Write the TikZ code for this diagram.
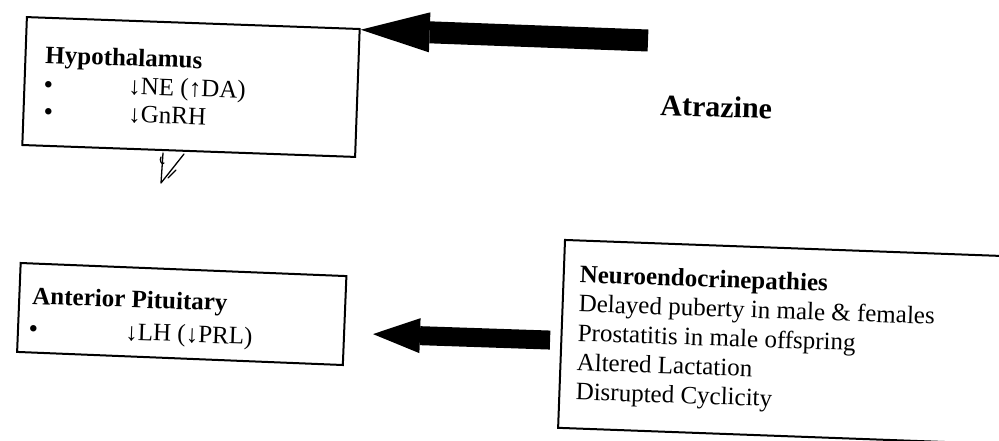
\documentclass[tikz,border=0pt]{standalone}
\usepackage{fontspec}
\setmainfont{Liberation Serif}
\usetikzlibrary{arrows.meta}
\begin{document}
\begin{tikzpicture}[x=1pt,y=-1pt,
  box/.style={draw, line width=2pt, inner sep=0pt},
  ttl/.style={font=\fontsize{25}{30}\selectfont\bfseries, anchor=base west, inner sep=0pt, rotate=-2},
  txt/.style={font=\fontsize{25}{30}\selectfont, anchor=base west, inner sep=0pt, rotate=-2},
  bul/.style={font=\fontsize{27}{30}\selectfont, anchor=base, inner sep=0pt, rotate=-2},
  fattop/.style={line width=22pt, -{Triangle[length=69pt,width=40pt,line width=0pt]}},
  fatlow/.style={line width=19pt, -{Triangle[length=47pt,width=35pt,line width=0pt]}},
  scrib/.style={line width=1.3pt, line join=round, line cap=round}]
\path[use as bounding box, fill=white] (0,0) rectangle (999,440);
\clip (0,0) rectangle (999,440);

% boxes
\node[box, minimum width=333pt, minimum height=128pt, rotate=-2.05] (hyp) at (191,87) {};
\node[box, minimum width=326pt, minimum height=89pt, rotate=-2.3] (ap) at (181.75,314) {};
\node[box, minimum width=470pt, minimum height=188pt, rotate=-2.1] (neuro) at (796.4,342.5) {};

% Hypothalamus text
\node[ttl] (hyptitle) at (45,63) {Hypothalamus};
\node[bul] (hb1) at (48,94) {•};
\node[txt] (hne) at (128,94) {↓NE (↑DA)};
\node[bul] (hb2) at (48,121) {•};
\node[txt] (hgn) at (128,122) {↓GnRH};

% Anterior pituitary text
\node[ttl] (aptitle) at (32,304) {Anterior Pituitary};
\node[bul] (apb) at (33,338) {•};
\node[txt] (aplh) at (125,340) {↓LH (↓PRL)};

% Neuroendocrinepathies text (one block)
\node[font=\fontsize{25}{29.3}\selectfont, align=left, anchor=north west, inner sep=0pt, rotate=-2]
  (ntext) at (580,265)
  {\textbf{Neuroendocrinepathies}\\
   Delayed puberty in male \& females\\
   Prostatitis in male offspring\\
   Altered Lactation\\
   Disrupted Cyclicity};

% Atrazine
\node[font=\fontsize{30}{36}\selectfont\bfseries, anchor=base west, inner sep=0pt, rotate=-2] (atz) at (660,115) {Atrazine};

% arrows
\coordinate (ttail) at (648,40.5);
\draw[fattop] (ttail) -- ([shift={(0,1.7)}]hyp.north east);
\coordinate (ltail) at ([shift={(-10.5,6.2)}]neuro.west);
\coordinate (ltip) at ([shift={(27.4,13.5)}]ap.east);
\draw[fatlow] (ltail) -- (ltip);

% small hand-drawn mark below the hypothalamus box
\coordinate (s1) at (163,153);
\coordinate (s2) at (161,183);
\coordinate (s3) at (184,154);
\draw[scrib] (s1) -- (s2) -- (s3);
\draw[scrib] (161,157) .. controls (159,160) and (162,166) .. (164,163);
\draw[scrib] (168,178) -- (176,170);
\end{tikzpicture}
\end{document}
